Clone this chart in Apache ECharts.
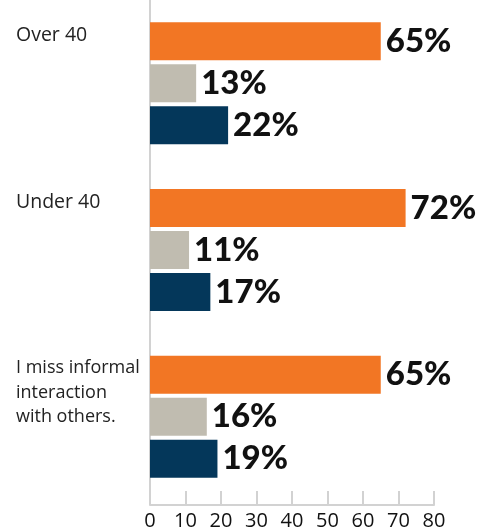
<!DOCTYPE html>
<html>
<head>
<meta charset="utf-8">
<script src="https://cdn.jsdelivr.net/npm/echarts@6/dist/echarts.min.js"></script>
<style>
  html, body { margin: 0; padding: 0; background: #fff; }
  #chart { width: 479px; height: 531px; }
</style>
</head>
<body>
<div id="chart"></div>
<script>
// Response groups, top to bottom
const categories = ['Over 40', 'Under 40', 'I miss informal\ninteraction\nwith others.'];

// Percent shares per group, one array per bar colour
const orangeValues = [65, 72, 65];
const greyValues = [13, 11, 16];
const navyValues = [22, 17, 19];

// Value-axis ticks
const xTicks = [0, 10, 20, 30, 40, 50, 60, 70, 80];

const AXIS_GREY = '#d2d2d2';
const LINES_PER_LABEL = 5;

function categoryLabel(value) {
  const lines = value.split('\n');
  const cls = lines.length > 1 ? 's' : 'b';
  const out = lines.map(l => '{' + cls + '|' + l + '}');
  while (out.length < LINES_PER_LABEL) out.push('{sp| }');
  return out.join('\n');
}

function barSeries(data, color) {
  return {
    type: 'bar',
    data: data,
    barWidth: 38,
    barGap: '10.5%',
    itemStyle: { color: color },
    label: {
      show: true,
      position: 'right',
      distance: 5,
      formatter: '{c}%',
      fontFamily: 'Lato',
      fontWeight: 900,
      fontSize: 33,
      color: '#111'
    }
  };
}

const chart = echarts.init(document.getElementById('chart'), null, { renderer: 'canvas' });
chart.setOption({
  animation: false,
  grid: { left: 150, right: 45, top: 0, height: 500, containLabel: false },
  xAxis: {
    type: 'value',
    min: xTicks[0],
    max: xTicks[xTicks.length - 1],
    interval: xTicks[1] - xTicks[0],
    offset: 5,
    splitLine: { show: false },
    axisLine: { show: true, lineStyle: { color: AXIS_GREY, width: 2 } },
    axisTick: { show: true, inside: true, length: 14, lineStyle: { color: AXIS_GREY, width: 2 } },
    axisLabel: {
      margin: 6,
      fontFamily: 'Open Sans',
      fontSize: 20,
      color: '#111'
    }
  },
  yAxis: {
    type: 'category',
    data: categories,
    inverse: true,
    axisLine: { show: true, lineStyle: { color: AXIS_GREY, width: 2 } },
    axisTick: { show: false },
    axisLabel: {
      align: 'left',
      verticalAlign: 'middle',
      margin: 134,
      formatter: categoryLabel,
      rich: {
        b: { fontFamily: 'Open Sans', fontSize: 19.5, color: '#222', lineHeight: 24 },
        s: { fontFamily: 'Open Sans', fontSize: 18, color: '#222', lineHeight: 24.5 },
        sp: { fontSize: 12, lineHeight: 24 }
      }
    }
  },
  series: [
    barSeries(orangeValues, '#F27624'),
    barSeries(greyValues, '#C0BCB0'),
    barSeries(navyValues, '#04375A')
  ]
});
</script>
</body>
</html>
